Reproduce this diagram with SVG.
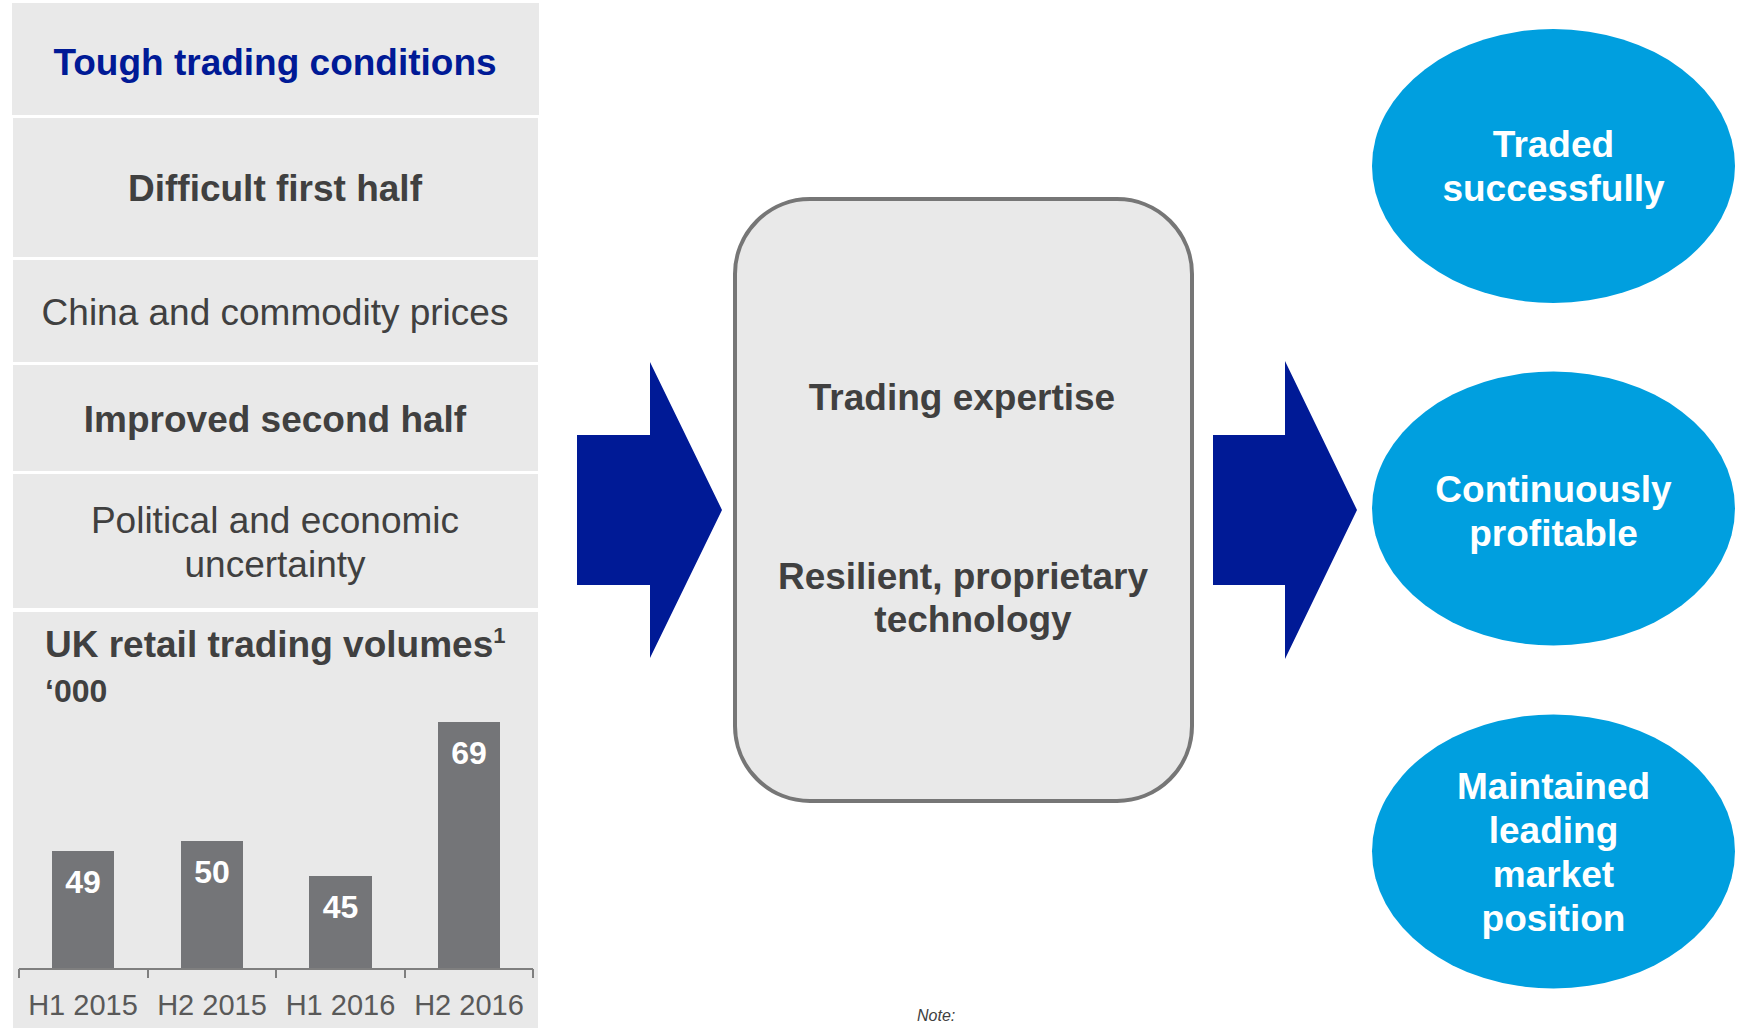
<svg xmlns="http://www.w3.org/2000/svg" width="1741" height="1029" viewBox="0 0 1741 1029">
<style>
text{font-family:"Liberation Sans",Arial,sans-serif}
.panel{fill:#e9e9e9}
.b{font-weight:bold}
.dark{fill:#404040}
.c{text-anchor:middle}
.t37{font-size:37px}
.bar{fill:#747578}
.barlbl{font-size:32px;font-weight:bold;fill:#ffffff;text-anchor:middle}
.axl{font-size:29px;fill:#595959;text-anchor:middle}
.arrow{fill:#001a96}
.oval{fill:#009fdf}
.ovt{font-size:37px;font-weight:bold;fill:#ffffff;text-anchor:middle}
</style>
<rect width="1741" height="1029" fill="#ffffff"/>
<g id="title">
<rect class="panel" x="12" y="3" width="527" height="112"/>
<text class="b c t37" x="275" y="75" fill="#001a96">Tough trading conditions</text>
</g>
<g id="difficult-first-half">
<rect class="panel" x="13" y="118" width="525" height="139"/>
<text class="b c t37 dark" x="275" y="201">Difficult first half</text>
</g>
<g id="china-commodity">
<rect class="panel" x="13" y="260" width="525" height="102"/>
<text class="c t37 dark" x="275" y="325">China and commodity prices</text>
</g>
<g id="improved-second-half">
<rect class="panel" x="13" y="365" width="525" height="106"/>
<text class="b c t37 dark" x="275" y="432">Improved second half</text>
</g>
<g id="political-economic">
<rect class="panel" x="13" y="474" width="525" height="134"/>
<text class="c t37 dark" x="275" y="533">Political and economic</text>
<text class="c t37 dark" x="275" y="577">uncertainty</text>
</g>
<g id="chart">
<rect class="panel" x="13" y="612" width="525" height="416"/>
<text class="b t37 dark" x="45" y="657">UK retail trading volumes<tspan font-size="22" dy="-14">1</tspan></text>
<text class="b dark" x="45" y="702" font-size="32">‘000</text>
<rect class="bar" x="52" y="851" width="62" height="118"/>
<rect class="bar" x="181" y="841" width="62" height="128"/>
<rect class="bar" x="309" y="876" width="63" height="93"/>
<rect class="bar" x="438" y="722" width="62" height="247"/>
<text class="barlbl" x="83" y="893">49</text>
<text class="barlbl" x="212" y="883">50</text>
<text class="barlbl" x="340.5" y="918">45</text>
<text class="barlbl" x="469" y="764">69</text>
<path d="M19 969H533M19 969V978M148 969V978M276 969V978M405 969V978M533 969V978" stroke="#7f7f7f" stroke-width="2" fill="none"/>
<text class="axl" x="83" y="1015">H1 2015</text>
<text class="axl" x="212" y="1015">H2 2015</text>
<text class="axl" x="340.5" y="1015">H1 2016</text>
<text class="axl" x="469" y="1015">H2 2016</text>
</g>
<g id="connectors">
<polygon class="arrow" points="577,435 650,435 650,362 722,510 650,658 650,585 577,585"/>
<polygon class="arrow" points="1213,435 1285,435 1285,361 1357,510 1285,659 1285,585 1213,585"/>
</g>
<g id="capabilities">
<rect x="735" y="199" width="457" height="602" rx="75" ry="75" fill="#e9e9e9" stroke="#767676" stroke-width="4"/>
<text class="b c t37 dark" x="962" y="410">Trading expertise</text>
<text class="b c t37 dark" x="963" y="589">Resilient, proprietary</text>
<text class="b c t37 dark" x="973" y="632">technology</text>
</g>
<g id="traded-successfully">
<ellipse class="oval" cx="1553.5" cy="166" rx="181.5" ry="137"/>
<text class="ovt" x="1553.5" y="157">Traded</text>
<text class="ovt" x="1553.5" y="201">successfully</text>
</g>
<g id="continuously-profitable">
<ellipse class="oval" cx="1553.5" cy="508.5" rx="181.5" ry="137"/>
<text class="ovt" x="1553.5" y="502">Continuously</text>
<text class="ovt" x="1553.5" y="546">profitable</text>
</g>
<g id="leading-market-position">
<ellipse class="oval" cx="1553.5" cy="851.5" rx="181.5" ry="137"/>
<text class="ovt" x="1553.5" y="799">Maintained</text>
<text class="ovt" x="1553.5" y="843">leading</text>
<text class="ovt" x="1553.5" y="887">market</text>
<text class="ovt" x="1553.5" y="931">position</text>
</g>
<text x="917" y="1021" font-size="16" font-style="italic" fill="#404040">Note:</text>
</svg>
